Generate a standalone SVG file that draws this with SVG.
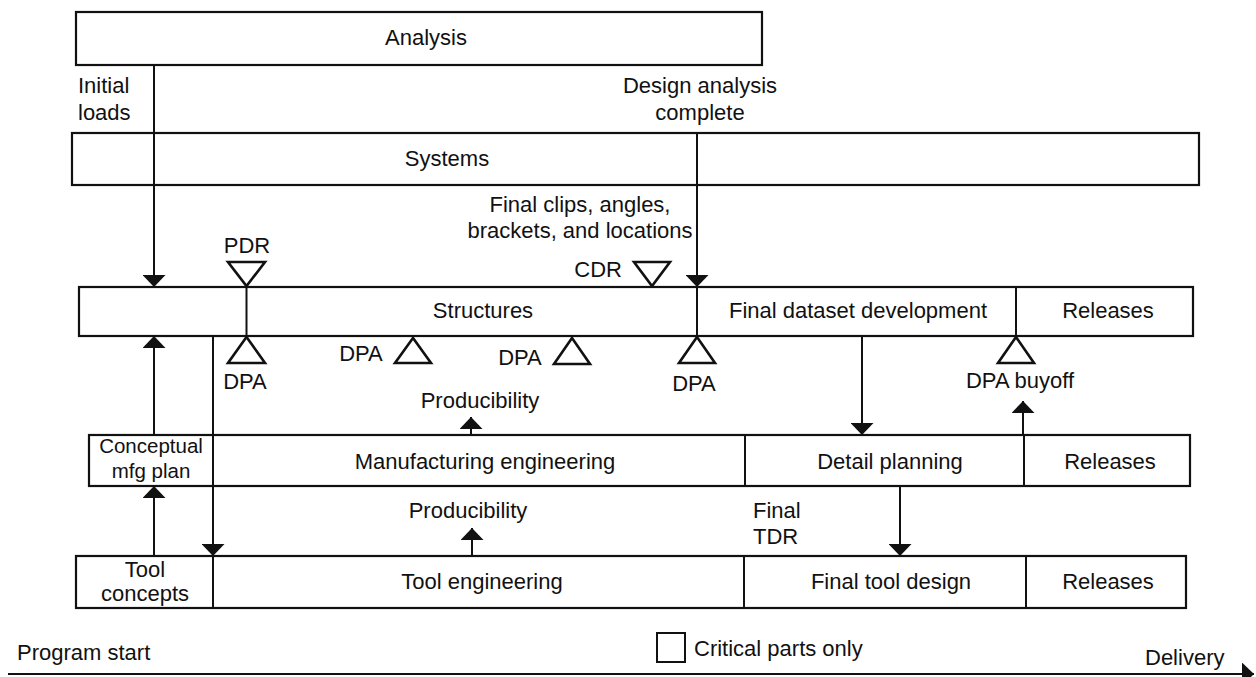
<svg xmlns="http://www.w3.org/2000/svg" width="1256" height="677" viewBox="0 0 1256 677">
  <style>
    text { font-family: "Liberation Sans", Arial, sans-serif; font-size: 22px; fill: #111; }
    .c { text-anchor: middle; }
    .e { text-anchor: end; }
    .sm { font-size: 20.5px; }
    .box { fill: #fff; stroke: #111; stroke-width: 2.2; }
    .div { stroke: #111; stroke-width: 2; fill: none; }
    .ln { stroke: #111; stroke-width: 2; fill: none; }
    .tri { fill: #fff; stroke: #111; stroke-width: 2.6; stroke-linejoin: miter; }
  </style>
  <defs>
    <marker id="ah" viewBox="0 0 12 23" refX="12" refY="11.5" markerWidth="12" markerHeight="23" markerUnits="userSpaceOnUse" orient="auto">
      <path d="M0,0 L12,11.5 L0,23 Z" fill="#111"/>
    </marker>
  </defs>
  <rect width="1256" height="677" fill="#fff"/>

  <!-- Top-level disciplines -->
  <g id="analysis">
    <rect class="box" x="76" y="12" width="686" height="53"/>
    <text class="c" x="426" y="45">Analysis</text>
  </g>
  <g id="systems">
    <rect class="box" x="72" y="133" width="1127" height="52"/>
    <text class="c" x="447" y="166">Systems</text>
  </g>
  <g id="structures">
    <rect class="box" x="79" y="287" width="1114" height="49"/>
    <line class="div" x1="1016" y1="287" x2="1016" y2="336"/>
    <text class="c" x="483" y="318">Structures</text>
    <text class="c" x="858" y="318">Final dataset development</text>
    <text class="c" x="1108" y="318">Releases</text>
  </g>
  <g id="manufacturing">
    <rect class="box" x="89" y="435" width="1101" height="51"/>
    <line class="div" x1="213" y1="435" x2="213" y2="486"/>
    <line class="div" x1="745" y1="435" x2="745" y2="486"/>
    <line class="div" x1="1024" y1="435" x2="1024" y2="486"/>
    <text class="c sm" x="151" y="453">Conceptual</text>
    <text class="c sm" x="151" y="478">mfg plan</text>
    <text class="c" x="485" y="469">Manufacturing engineering</text>
    <text class="c" x="890" y="469">Detail planning</text>
    <text class="c" x="1110" y="469">Releases</text>
  </g>
  <g id="tooling">
    <rect class="box" x="76" y="556" width="1110" height="52"/>
    <line class="div" x1="213" y1="556" x2="213" y2="608"/>
    <line class="div" x1="744" y1="556" x2="744" y2="608"/>
    <line class="div" x1="1026" y1="556" x2="1026" y2="608"/>
    <text class="c" x="145" y="577">Tool</text>
    <text class="c" x="145" y="601">concepts</text>
    <text class="c" x="482" y="589">Tool engineering</text>
    <text class="c" x="891" y="589">Final tool design</text>
    <text class="c" x="1108" y="589">Releases</text>
  </g>

  <!-- Review and approval milestones -->
  <g id="pdr">
    <text class="c" x="247" y="253">PDR</text>
    <polygon class="tri" points="228,262 265,262 246.5,286"/>
    <line class="ln" x1="246.5" y1="287" x2="246.5" y2="336"/>
  </g>
  <g id="cdr">
    <text class="e" x="622" y="277">CDR</text>
    <polygon class="tri" points="634,262 670,262 652,286"/>
  </g>
  <g id="dpa-1">
    <polygon class="tri" points="246.5,337 228,363 265,363"/>
    <text class="c" x="245" y="389">DPA</text>
  </g>
  <g id="dpa-2">
    <polygon class="tri" points="413,338 395,363 431,363"/>
    <text class="c" x="361" y="361">DPA</text>
  </g>
  <g id="dpa-3">
    <polygon class="tri" points="572,338 554,364 590,364"/>
    <text class="c" x="520" y="365">DPA</text>
  </g>
  <g id="dpa-4">
    <polygon class="tri" points="697,337 679,363 715,363"/>
    <text class="c" x="694" y="391">DPA</text>
  </g>
  <g id="dpa-buyoff">
    <polygon class="tri" points="1016,337 998,363 1034,363"/>
    <text class="c" x="1020" y="388">DPA buyoff</text>
  </g>

  <!-- Flow labels -->
  <g id="labels">
    <text x="78" y="93">Initial</text>
    <text x="78" y="120">loads</text>
    <text class="c" x="700" y="93">Design analysis</text>
    <text class="c" x="700" y="120">complete</text>
    <text class="c" x="580" y="212">Final clips, angles,</text>
    <text class="c" x="580" y="238">brackets, and locations</text>
    <text class="c" x="480" y="408">Producibility</text>
    <text class="c" x="468" y="518">Producibility</text>
    <text x="753" y="518">Final</text>
    <text x="753" y="544">TDR</text>
  </g>

  <!-- Connectors -->
  <g id="connectors">
    <line class="ln" x1="154" y1="65" x2="154" y2="287" marker-end="url(#ah)"/>
    <line class="ln" x1="697" y1="133" x2="697" y2="287" marker-end="url(#ah)"/>
    <line class="ln" x1="697" y1="287" x2="697" y2="336"/>
    <line class="ln" x1="154" y1="435" x2="154" y2="336" marker-end="url(#ah)"/>
    <line class="ln" x1="154" y1="556" x2="154" y2="486" marker-end="url(#ah)"/>
    <line class="ln" x1="213" y1="336" x2="213" y2="556" marker-end="url(#ah)"/>
    <line class="ln" x1="471" y1="435" x2="471" y2="417" marker-end="url(#ah)"/>
    <line class="ln" x1="472" y1="556" x2="472" y2="528" marker-end="url(#ah)"/>
    <line class="ln" x1="862" y1="336" x2="862" y2="435" marker-end="url(#ah)"/>
    <line class="ln" x1="1023" y1="435" x2="1023" y2="401" marker-end="url(#ah)"/>
    <line class="ln" x1="900" y1="486" x2="900" y2="556" marker-end="url(#ah)"/>
  </g>

  <!-- Timeline -->
  <g id="timeline">
    <line class="ln" x1="8" y1="674" x2="1254" y2="674" marker-end="url(#ah)"/>
    <text x="17" y="660">Program start</text>
    <text x="1145" y="665">Delivery</text>
  </g>
  <g id="legend">
    <rect x="657" y="633" width="28" height="29" fill="#fff" stroke="#111" stroke-width="2"/>
    <text x="694" y="656">Critical parts only</text>
  </g>
</svg>
